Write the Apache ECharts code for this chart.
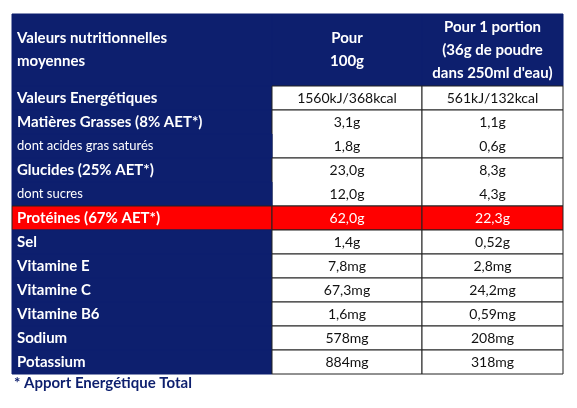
<!DOCTYPE html>
<html><head><meta charset="utf-8">
<script src="https://cdn.jsdelivr.net/npm/echarts@6/dist/echarts.min.js"></script>
<style>html,body{margin:0;padding:0;background:#fff}#c{width:577px;height:408px}</style>
</head><body><div id="c"></div>
<script>
const headers = ['Valeurs nutritionnelles\nmoyennes', 'Pour\n100g', 'Pour 1 portion\n(36g de poudre\ndans 250ml d\'eau)'];
const nutrients = ['Valeurs Energétiques','Matières Grasses (8% AET*)','dont acides gras saturés','Glucides (25% AET*)','dont sucres','Protéines (67% AET*)','Sel','Vitamine E','Vitamine C','Vitamine B6','Sodium','Potassium'];
const per100g = ['1560kJ/368kcal','3,1g','1,8g','23,0g','12,0g','62,0g','1,4g','7,8mg','67,3mg','1,6mg','578mg','884mg'];
const perPortion = ['561kJ/132kcal','1,1g','0,6g','8,3g','4,3g','22,3g','0,52g','2,8mg','24,2mg','0,59mg','208mg','318mg'];
const subRows = [2,4];
const highlightRow = 5;
const footnote = '* Apport Energétique Total';

const NAVY = '#0d1f6e', RED = '#ff0000', FONT = 'Lato, "Open Sans", sans-serif';
const colEdges = [0, 260, 410, 551];
const nSlots = 15;
const data = [];
for (let c = 0; c < 3; c++) data.push([c, -1, headers[c]]);
nutrients.forEach((n, r) => {
  data.push([0, r, n]); data.push([1, r, per100g[r]]); data.push([2, r, perPortion[r]]);
});
function slotTop(r){ return r < 0 ? 0 : r + 3; }
function slotBottom(r){ return r < 0 ? 3 : r + 4; }

const chart = echarts.init(document.getElementById('c'));
chart.setOption({
  animation: false,
  grid: {left: 12, top: 14, width: 551, height: 360},
  xAxis: {type: 'value', min: 0, max: 551, show: false},
  yAxis: {type: 'value', min: 0, max: nSlots, inverse: true, show: false},
  graphic: [{type: 'text', left: 14, top: 376, style: {text: footnote, font: 'bold 15px ' + FONT, fill: NAVY}}],
  series: [{
    type: 'custom', data: data,
    renderItem: function (params, api) {
      const c = api.value(0), r = api.value(1), txt = data[params.dataIndex][2];
      const isSub = subRows.indexOf(r) >= 0;
      const spansNext = subRows.indexOf(r + 1) >= 0;
      const x0 = api.coord([colEdges[c], 0])[0], x1 = api.coord([colEdges[c + 1], 0])[0];
      const y0 = api.coord([0, slotTop(r)])[1], y1 = api.coord([0, slotBottom(r)])[1];
      const yb = spansNext ? api.coord([0, slotBottom(r + 1)])[1] : y1;
      const header = r < 0, hl = r === highlightRow;
      const fill = (header || c === 0) ? NAVY : (hl ? RED : '#fff');
      const children = [];
      if (!isSub || c === 0) {
        children.push({type: 'rect', shape: {x: x0, y: y0, width: x1 - x0, height: (c === 0 ? y1 : yb) - y0},
          style: {fill: hl ? RED : fill, stroke: (c === 0 && !hl) || header ? NAVY : '#222', lineWidth: 1}});
      }
      const white = header || c === 0 || hl;
      const bold = header || (c === 0 && !isSub);
      const size = isSub && c === 0 ? 13 : (c === 0 || header ? 15 : 14);
      children.push({type: 'text', z2: 10, style: {
        text: txt, x: c === 0 ? x0 + 5 : (x0 + x1) / 2, y: (y0 + y1) / 2,
        align: c === 0 ? 'left' : 'center', verticalAlign: 'middle',
        font: (bold ? 'bold ' : '') + size + 'px ' + FONT, lineHeight: 23,
        fill: white ? '#fff' : '#111'}});
      return {type: 'group', children: children};
    }
  }]
});
</script></body></html>
